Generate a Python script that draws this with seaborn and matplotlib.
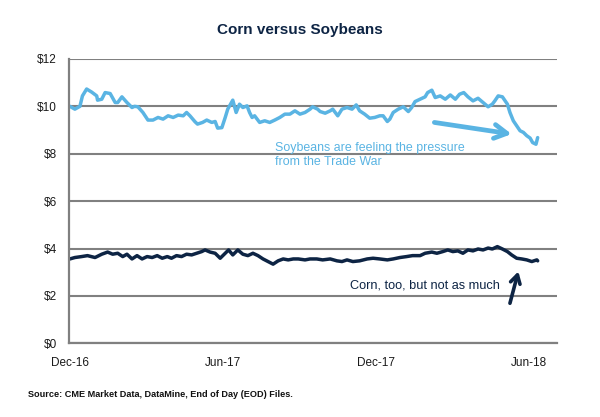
import matplotlib
matplotlib.use("Agg")
import matplotlib.pyplot as plt
import matplotlib.dates as mdates
import matplotlib.ticker as mticker
import seaborn as sns
import pandas as pd

# ---------------- data ----------------
soy_dates = [
    "2016-12-01", "2016-12-07", "2016-12-13", "2016-12-16", "2016-12-21", "2016-12-27",
    "2017-01-02", "2017-01-03", "2017-01-08", "2017-01-12", "2017-01-18", "2017-01-24",
    "2017-01-27", "2017-02-01", "2017-02-07", "2017-02-13", "2017-02-16", "2017-02-20",
    "2017-02-26", "2017-03-04", "2017-03-10", "2017-03-16", "2017-03-22", "2017-03-28",
    "2017-04-03", "2017-04-09", "2017-04-15", "2017-04-19", "2017-04-23", "2017-04-29",
    "2017-05-02", "2017-05-08", "2017-05-13", "2017-05-19", "2017-05-23", "2017-05-26",
    "2017-05-31", "2017-06-04", "2017-06-07", "2017-06-13", "2017-06-17", "2017-06-21",
    "2017-06-25", "2017-06-30", "2017-07-03", "2017-07-06", "2017-07-09", "2017-07-15",
    "2017-07-21", "2017-07-27", "2017-08-02", "2017-08-08", "2017-08-14", "2017-08-20",
    "2017-08-26", "2017-09-01", "2017-09-07", "2017-09-13", "2017-09-16", "2017-09-22",
    "2017-09-25", "2017-10-01", "2017-10-07", "2017-10-10", "2017-10-16", "2017-10-21",
    "2017-10-27", "2017-11-02", "2017-11-07", "2017-11-11", "2017-11-17", "2017-11-23",
    "2017-11-29", "2017-12-05", "2017-12-09", "2017-12-14", "2017-12-17", "2017-12-21",
    "2017-12-27", "2018-01-02", "2018-01-08", "2018-01-12", "2018-01-16", "2018-01-22",
    "2018-01-28", "2018-01-31", "2018-02-05", "2018-02-09", "2018-02-15", "2018-02-21",
    "2018-02-27", "2018-03-05", "2018-03-10", "2018-03-15", "2018-03-20", "2018-03-26",
    "2018-04-01", "2018-04-07", "2018-04-13", "2018-04-18", "2018-04-21", "2018-04-25",
    "2018-04-30", "2018-05-06", "2018-05-09", "2018-05-13", "2018-05-17", "2018-05-21",
    "2018-05-25", "2018-05-29", "2018-06-02", "2018-06-05", "2018-06-09", "2018-06-11",
]
soy_values = [
    10.00, 9.88, 10.00, 10.44, 10.73, 10.60,
    10.44, 10.26, 10.30, 10.58, 10.54, 10.16,
    10.16, 10.40, 10.16, 9.95, 10.00, 9.98,
    9.74, 9.42, 9.42, 9.53, 9.46, 9.60,
    9.53, 9.63, 9.60, 9.74, 9.60, 9.35,
    9.25, 9.32, 9.42, 9.32, 9.36, 9.08,
    9.10, 9.53, 9.88, 10.26, 9.74, 10.09,
    9.95, 10.02, 9.74, 9.53, 9.60, 9.32,
    9.39, 9.32, 9.42, 9.53, 9.67, 9.67,
    9.81, 9.67, 9.74, 9.88, 9.98, 9.88,
    9.78, 9.71, 9.81, 9.88, 9.60, 9.88,
    9.95, 9.88, 10.06, 9.81, 9.67, 9.50,
    9.53, 9.60, 9.60, 9.36, 9.46, 9.74,
    9.88, 9.98, 9.78, 9.95, 10.20, 10.30,
    10.40, 10.58, 10.68, 10.37, 10.44, 10.30,
    10.48, 10.30, 10.51, 10.58, 10.40, 10.23,
    10.34, 10.16, 9.98, 10.09, 10.23, 10.44,
    10.40, 10.09, 9.74, 9.39, 9.18, 8.97,
    8.90, 8.76, 8.66, 8.47, 8.40, 8.68,
]

corn_dates = [
    "2016-12-01", "2016-12-07", "2016-12-15", "2016-12-22", "2016-12-31", "2017-01-08",
    "2017-01-15", "2017-01-21", "2017-01-27", "2017-02-02", "2017-02-07", "2017-02-13",
    "2017-02-19", "2017-02-25", "2017-03-03", "2017-03-09", "2017-03-15", "2017-03-21",
    "2017-03-27", "2017-04-01", "2017-04-07", "2017-04-13", "2017-04-19", "2017-04-25",
    "2017-05-01", "2017-05-07", "2017-05-11", "2017-05-17", "2017-05-23", "2017-05-29",
    "2017-06-02", "2017-06-08", "2017-06-13", "2017-06-19", "2017-06-25", "2017-07-01",
    "2017-07-07", "2017-07-13", "2017-07-19", "2017-07-25", "2017-07-31", "2017-08-06",
    "2017-08-12", "2017-08-18", "2017-08-24", "2017-08-30", "2017-09-07", "2017-09-13",
    "2017-09-21", "2017-09-28", "2017-10-07", "2017-10-15", "2017-10-21", "2017-10-27",
    "2017-11-03", "2017-11-11", "2017-11-20", "2017-11-27", "2017-12-05", "2017-12-14",
    "2017-12-21", "2017-12-29", "2018-01-06", "2018-01-13", "2018-01-22", "2018-01-28",
    "2018-02-05", "2018-02-11", "2018-02-18", "2018-02-24", "2018-03-02", "2018-03-08",
    "2018-03-14", "2018-03-20", "2018-03-26", "2018-04-01", "2018-04-07", "2018-04-13",
    "2018-04-18", "2018-04-24", "2018-04-30", "2018-05-06", "2018-05-11", "2018-05-17",
    "2018-05-23", "2018-05-29", "2018-06-04", "2018-06-10", "2018-06-11",
]
corn_values = [
    3.56, 3.62, 3.66, 3.70, 3.62, 3.76,
    3.85, 3.76, 3.80, 3.66, 3.76, 3.56,
    3.70, 3.56, 3.66, 3.62, 3.70, 3.59,
    3.66, 3.59, 3.70, 3.66, 3.76, 3.73,
    3.80, 3.87, 3.94, 3.85, 3.80, 3.59,
    3.73, 3.94, 3.73, 3.94, 3.76, 3.70,
    3.80, 3.70, 3.56, 3.45, 3.34, 3.48,
    3.56, 3.52, 3.56, 3.56, 3.52, 3.56,
    3.56, 3.52, 3.56, 3.48, 3.45, 3.52,
    3.45, 3.48, 3.56, 3.59, 3.56, 3.52,
    3.56, 3.62, 3.66, 3.70, 3.70, 3.80,
    3.85, 3.80, 3.87, 3.94, 3.87, 3.90,
    3.80, 3.94, 3.90, 3.98, 3.94, 4.02,
    3.98, 4.08, 3.98, 3.87, 3.73, 3.59,
    3.56, 3.52, 3.45, 3.52, 3.48,
]

y_ticks = [0, 2, 4, 6, 8, 10, 12]
x_ticks = ["2016-12-01", "2017-06-01", "2017-12-01", "2018-06-01"]

title = "Corn versus Soybeans"
soy_note = "Soybeans are feeling the pressure\nfrom the Trade War"
corn_note = "Corn, too, but not as much"
source = "Source: CME Market Data, DataMine, End of Day (EOD) Files."

# ---------------- styling ----------------
SOY = "#5ab4e3"
CORN = "#0d2444"
GRID = "#808080"
TXT = "#1a1a1a"

sns.set_style("white")
plt.rcParams["font.family"] = ["Liberation Sans", "DejaVu Sans"]

soy_df = pd.DataFrame({"date": pd.to_datetime(soy_dates), "price": soy_values})
corn_df = pd.DataFrame({"date": pd.to_datetime(corn_dates), "price": corn_values})

fig = plt.figure(figsize=(6.0, 4.17), dpi=100)
ax = fig.add_axes([0.115, 0.1767, 0.8133, 0.682])

sns.lineplot(data=soy_df, x="date", y="price", color=SOY, lw=2.5, ax=ax,
             solid_joinstyle="round", solid_capstyle="round")
sns.lineplot(data=corn_df, x="date", y="price", color=CORN, lw=2.5, ax=ax,
             solid_joinstyle="round", solid_capstyle="round")

ax.set_ylim(0, 12)
ax.set_xlim(pd.Timestamp("2016-11-30"), pd.Timestamp("2018-07-04"))
ax.set_yticks(y_ticks)
ax.yaxis.set_major_formatter(mticker.FuncFormatter(lambda v, p: f"${v:.0f}"))
ax.set_xticks(pd.to_datetime(x_ticks))
ax.xaxis.set_major_formatter(mdates.DateFormatter("%b-%y"))
ax.set_xlabel("")
ax.set_ylabel("")

ax.grid(axis="y", color=GRID, lw=1.5)
ax.grid(axis="x", visible=False)
ax.set_axisbelow(True)
for s in ("top", "right"):
    ax.spines[s].set_visible(False)
for s in ("left", "bottom"):
    ax.spines[s].set_color(GRID)
    ax.spines[s].set_linewidth(1.6)

ax.tick_params(axis="both", colors=GRID, labelcolor=TXT, labelsize=8.5,
               length=3.2, width=1.4, direction="out")
ax.tick_params(axis="x", pad=7)
ax.tick_params(axis="y", pad=5.5)

fig.text(0.5, 0.928, title, ha="center", va="center", fontsize=11,
         fontweight="bold", color=CORN)

ax.text(pd.Timestamp("2017-08-02"), 7.93, soy_note, color=SOY, fontsize=8.9,
        ha="left", va="center", linespacing=1.2)
ax.annotate("", xy=(pd.Timestamp("2018-05-11"), 8.83),
            xytext=(pd.Timestamp("2018-02-08"), 9.32),
            arrowprops=dict(arrowstyle="->,head_length=0.9,head_width=0.5",
                            color=SOY, lw=3.4, shrinkA=0, shrinkB=0))

ax.text(pd.Timestamp("2017-10-31"), 2.42, corn_note, color=CORN, fontsize=9.2,
        ha="left", va="center")
ax.annotate("", xy=(pd.Timestamp("2018-05-19"), 3.03),
            xytext=(pd.Timestamp("2018-05-09"), 1.69),
            arrowprops=dict(arrowstyle="->,head_length=0.6,head_width=0.35",
                            color=CORN, lw=2.6, shrinkA=0, shrinkB=0))

fig.text(0.0467, 0.055, source, ha="left", va="center", fontsize=6.6,
         fontweight="bold", color="#111111")

fig.savefig("out.png", dpi=100)
